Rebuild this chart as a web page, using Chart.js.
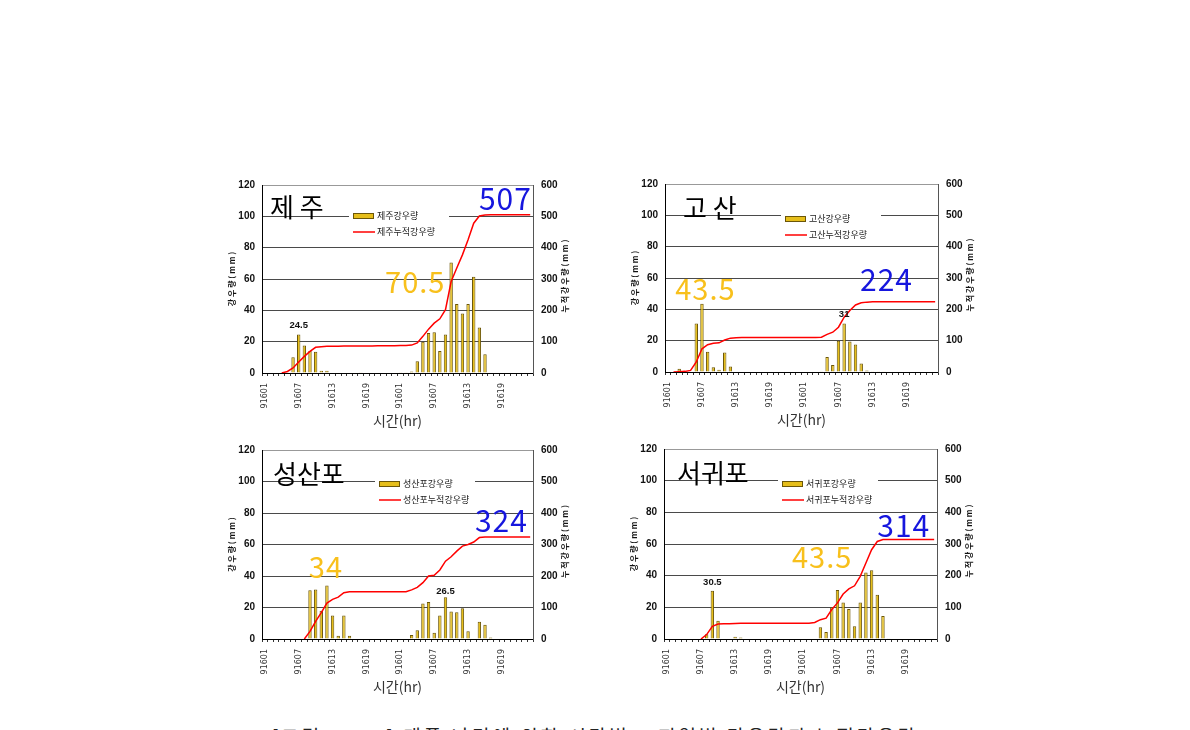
<!DOCTYPE html>
<html>
<head>
<meta charset="utf-8">
<script src="https://cdn.jsdelivr.net/npm/chart.js@4.4.1/dist/chart.umd.min.js"></script>
<style>
  html, body { margin: 0; padding: 0; background: #fff; width: 1190px; height: 730px; overflow: hidden; position: relative; }
  canvas { position: absolute; }
  #caption { position: absolute; left: 0; width: 1190px; top: 722px; text-align: center; font: 19px "Noto Sans CJK KR"; letter-spacing: 3px; color: #222; white-space: nowrap; }
</style>
</head>
<body>
<canvas id="c1" width="370" height="270" style="left:220px;top:170px"></canvas>
<canvas id="c2" width="370" height="270" style="left:625px;top:170px"></canvas>
<canvas id="c3" width="370" height="270" style="left:220px;top:435px"></canvas>
<canvas id="c4" width="370" height="270" style="left:625px;top:435px"></canvas>
<div id="caption">[그림 3.1.6] 태풍 나리에 의한 시간별 · 지역별 강우량과 누적강우량</div>
<script>
// 시간 (월일시) - 48시간
const hours = ['91601','91602','91603','91604','91605','91606','91607','91608','91609','91610','91611','91612',
  '91613','91614','91615','91616','91617','91618','91619','91620','91621','91622','91623','91624',
  '91701','91702','91703','91704','91705','91706','91707','91708','91709','91710','91711','91712',
  '91713','91714','91715','91716','91717','91718','91719','91720','91721','91722','91723','91724'];
// 축에 찍히는 라벨 (6시간 간격)
const tickLabels = ['91601','91607','91613','91619','91601','91607','91613','91619'];

// 제주
const rainJeju = [0,0,0,0,0.5,10,24.5,17.5,14,13.5,1.5,1.5,
  0,0.3,0,0,0,0.5,0,0,0,0,0,0.3,
  0.5,0.5,1,7.5,20,25.5,26,14,24.5,70.5,44,38,
  44,61.5,29,12,0,0,0,0,0,0,0,0];
const cumJeju = [null,null,null,0,5,16,35,53,69,82,84,85,
  85,85,86,86,86,86,86,86,87,87,87,87,
  88,88,89,96,117,140,159,173,202,292,335,377,
  425,478,501,504,505,505,505,505,505,505,505,505];

// 고산
const rainGosan = [0,0,2,0,0,31,43.5,13,3,1.5,12.5,3.5,
  0,0,0,0.3,0.3,0,0,0,0,0,0,0,
  0,0,0,0.5,9.5,4.5,20,31,19.5,17.5,5.5,1,
  0.5,0.5,0.5,0,0,0,0,0,0,0,0,0];
const cumGosan = [null,0,1,2,5,32,74,87,92,93,102,108,
  109,110,110,110,110,110,110,110,110,110,110,110,
  110,110,110,111,120,127,143,175,196,214,221,223,
  224,224,224,224,224,224,224,224,224,224,224,224];

// 성산포
const rainSeongsan = [0,0,0,0,0,0,0,0,31,31.5,18,34,
  15,2,15,2,0.3,0,0.3,0,0.3,0,0,0,
  0,0,2.5,5.5,22.5,23.5,4,15,26.5,17.5,17,19.5,
  5,0,11,9,1,0,0,0,0,0,0,0];
const cumSeongsan = [null,null,null,null,null,null,null,0,24,56,84,114,
  126,133,147,150,150,150,150,150,150,150,150,150,
  150,150,156,164,179,200,202,219,247,261,279,295,
  300,308,322,324,324,324,324,324,324,324,324,324];

// 서귀포
const rainSeogwi = [0,0,0,0,0,0,0,3,30.5,11.5,0,0,
  1.5,1,0,0,0,0,0,0,0,0,0,0.3,
  0,0,0,7.5,4.5,20,31,23,19,8,23,42,
  43.5,28,14.5,0.5,0,0,0,0,0,0,0,0];
const cumSeogwi = [null,null,null,null,null,null,0,14,40,47,48,48,
  49,50,50,50,50,50,50,50,50,50,50,50,
  50,50,52,61,66,93,114,142,158,168,198,240,
  282,308,314,314,314,314,314,314,314,314,314,314];

const ORANGE = '#F8C01C';
const BLUE = '#1616DE';

// 패널별 배치 (box: 왼쪽축폭, 오른쪽축폭, 위여백, 아래축높이)
const panels = [
  { id: 'c1', station: '제 주', name: '제주', rain: rainJeju, cum: cumJeju,
    box: [42, 57, 15, 67], titlePos: [8, 32], legendPos: [91, 31],
    notes: [
      { t: '507', c: BLUE, size: 30, x: 47.3, y: 104, align: 'right' },
      { t: '70.5', c: ORANGE, size: 29, x: 21.3, y: 51, align: 'left' },
      { t: '24.5', c: '#111', size: 9.5, bold: true, x: 6, y: 28.7, align: 'center' }
    ] },
  { id: 'c2', station: '고 산', name: '고산', rain: rainGosan, cum: cumGosan,
    box: [40, 57, 13, 68], titlePos: [18, 34], legendPos: [120, 35],
    notes: [
      { t: '224', c: BLUE, size: 30, x: 43.1, y: 52, align: 'right' },
      { t: '43.5', c: ORANGE, size: 29, x: 1.3, y: 45.7, align: 'left' },
      { t: '31', c: '#111', size: 9.5, bold: true, x: 31, y: 35, align: 'center' }
    ] },
  { id: 'c3', station: '성산포', name: '성산포', rain: rainSeongsan, cum: cumSeongsan,
    box: [42, 57, 15, 66], titlePos: [11, 34], legendPos: [117, 34],
    notes: [
      { t: '324', c: BLUE, size: 30, x: 46.6, y: 67.9, align: 'right' },
      { t: '34', c: ORANGE, size: 29, x: 7.8, y: 38.7, align: 'left' },
      { t: '26.5', c: '#111', size: 9.5, bold: true, x: 32, y: 28.5, align: 'center' }
    ] },
  { id: 'c4', station: '서귀포', name: '서귀포', rain: rainSeogwi, cum: cumSeogwi,
    box: [39, 58, 14, 66], titlePos: [13, 34], legendPos: [118, 35],
    notes: [
      { t: '314', c: BLUE, size: 30, x: 46.3, y: 64.4, align: 'right' },
      { t: '43.5', c: ORANGE, size: 29, x: 22, y: 44.8, align: 'left' },
      { t: '30.5', c: '#111', size: 9.5, bold: true, x: 8, y: 34, align: 'center' }
    ] }
];

// 제목, 축제목, 범례, 주석 그리기
const decoPlugin = {
  id: 'deco',
  afterDraw(chart, args, o) {
    const { ctx, chartArea: a, scales } = chart;
    const kr = '"Noto Sans CJK KR"';
    ctx.save();

    // 축 제목
    ctx.fillStyle = '#111';
    ctx.font = 'bold 8px ' + kr;
    ctx.textAlign = 'center';
    ctx.textBaseline = 'middle';
    ctx.save();
    ctx.translate(a.left - 30, (a.top + a.bottom) / 2);
    ctx.rotate(-Math.PI / 2);
    ctx.fillText('강 우 량 ( m m )', 0, 0);
    ctx.restore();
    ctx.save();
    ctx.translate(a.right + 32, (a.top + a.bottom) / 2 - 3);
    ctx.rotate(-Math.PI / 2);
    ctx.fillText('누 적 강 우 량 ( m m )', 0, 0);
    ctx.restore();
    ctx.fillStyle = '#333';
    ctx.font = '14px ' + kr;
    ctx.fillText('시간(hr)', (a.left + a.right) / 2, a.bottom + 48);

    // 지점명
    ctx.fillStyle = '#000';
    ctx.font = '26px ' + kr;
    ctx.textAlign = 'left';
    ctx.textBaseline = 'alphabetic';
    ctx.fillText(o.station, a.left + o.titlePos[0], a.top + o.titlePos[1]);

    // 범례
    const bar = chart.data.datasets[1];
    const line = chart.data.datasets[0];
    const lx = a.left + o.legendPos[0];
    const ly = a.top + o.legendPos[1];
    ctx.fillStyle = '#fff';
    ctx.fillRect(lx - 4, ly - 9, 100, 32);
    ctx.fillStyle = bar.backgroundColor;
    ctx.fillRect(lx, ly - 3, 21, 6);
    ctx.strokeStyle = bar.borderColor;
    ctx.lineWidth = 1;
    ctx.strokeRect(lx + 0.5, ly - 2.5, 20, 5);
    ctx.strokeStyle = line.borderColor;
    ctx.lineWidth = 1.5;
    ctx.beginPath();
    ctx.moveTo(lx, ly + 16);
    ctx.lineTo(lx + 22, ly + 16);
    ctx.stroke();
    ctx.fillStyle = '#222';
    ctx.font = '9px ' + kr;
    ctx.textBaseline = 'middle';
    ctx.fillText(bar.label, lx + 24, ly);
    ctx.fillText(line.label, lx + 24, ly + 16);

    // 주석 숫자
    ctx.textBaseline = 'alphabetic';
    o.notes.forEach(n => {
      ctx.fillStyle = n.c;
      ctx.textAlign = n.align;
      if (n.bold) {
        ctx.font = 'bold ' + n.size + 'px "Liberation Sans"';
        ctx.letterSpacing = '0px';
      } else {
        ctx.font = n.size + 'px ' + kr;
        ctx.letterSpacing = '1px';
      }
      ctx.fillText(n.t, scales.x.getPixelForValue(n.x), scales.y.getPixelForValue(n.y));
    });
    ctx.letterSpacing = '0px';
    ctx.restore();
  }
};

const tickFont = { family: 'Liberation Sans', size: 10, weight: 'bold' };

panels.forEach(p => {
  const ctx = document.getElementById(p.id).getContext('2d');
  new Chart(ctx, {
    data: {
      labels: hours,
      datasets: [
        {
          type: 'line',
          label: p.name + '누적강우량',
          data: p.cum,
          yAxisID: 'y1',
          borderColor: '#FF0000',
          borderWidth: 1.5,
          pointRadius: 0,
          tension: 0,
          order: 0
        },
        {
          type: 'bar',
          label: p.name + '강우량',
          data: p.rain,
          yAxisID: 'y',
          backgroundColor: '#E6BE1A',
          borderColor: '#6B5608',
          borderWidth: 1,
          barPercentage: 0.6,
          categoryPercentage: 1,
          order: 1
        }
      ]
    },
    options: {
      responsive: false,
      animation: false,
      devicePixelRatio: 1,
      layout: { padding: { top: p.box[2], left: 0, right: 0, bottom: 0 } },
      plugins: {
        legend: { display: false },
        tooltip: { enabled: false },
        deco: p
      },
      scales: {
        x: {
          offset: true,
          afterFit: s => { s.height = p.box[3]; },
          grid: { drawOnChartArea: false, drawTicks: true, tickLength: 3, color: '#333', offset: true },
          border: { color: '#000', width: 1 },
          ticks: {
            autoSkip: false,
            maxRotation: 90,
            minRotation: 90,
            padding: 7,
            color: '#333',
            font: { family: 'DejaVu Sans', size: 8 },
            callback: (v, i) => (i % 6 === 0 ? tickLabels[i / 6] : '')
          }
        },
        y: {
          position: 'left',
          min: 0,
          max: 120,
          afterFit: s => { s.width = p.box[0]; },
          ticks: { stepSize: 20, padding: 7, color: '#111', font: tickFont },
          grid: {
            drawTicks: false,
            color: c => (c.tick.value === 120 ? '#999' : '#4a4a4a')
          },
          border: { color: '#000', width: 1 }
        },
        y1: {
          position: 'right',
          min: 0,
          max: 600,
          afterFit: s => { s.width = p.box[1]; },
          ticks: { stepSize: 100, padding: 8, color: '#111', font: tickFont },
          grid: { drawOnChartArea: false, drawTicks: false },
          border: { color: '#555', width: 1 }
        }
      }
    },
    plugins: [decoPlugin]
  });
});
</script>
</body>
</html>
